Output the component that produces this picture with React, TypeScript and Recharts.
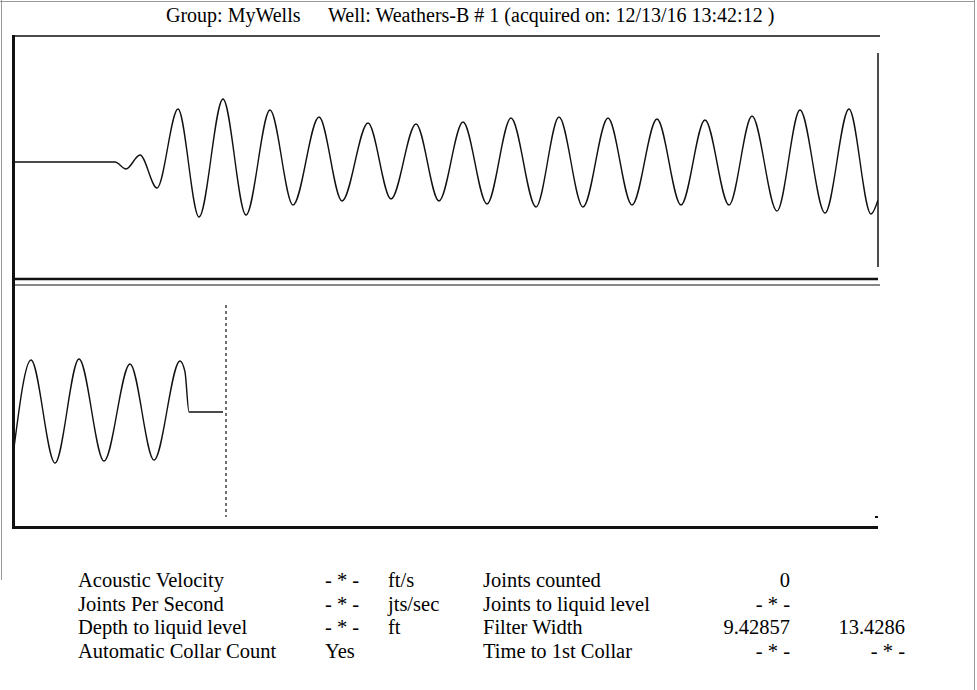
import { LineChart, Line, XAxis, YAxis, ReferenceLine } from 'recharts';

// upper trace: sample position vs amplitude
const upperTime = [0, 101, 112, 126, 143, 164, 185, 209, 232, 256, 279, 305, 328, 354, 377, 402, 425, 449, 473, 497, 522, 545, 569, 594, 618, 643, 667, 691, 715, 738, 763, 786, 811, 835, 857, 864];
const upperAmp = [0, 0, -7, 7, -26, 53, -55, 63, -53, 52, -43, 45, -39, 39, -37, 38, -39, 40, -42, 44, -45, 45, -45, 44, -43, 43, -43, 42, -43, 46, -49, 52, -51, 53, -52, -38];

// lower trace (filtered window)
const lowerTime = [0, 17, 41, 65, 90, 116, 140, 166, 171, 175, 209];
const lowerAmp = [-36, 52, -51, 53, -49, 48, -48, 51, 40, 0, 0];

const markerTime = 212;

const labelsLeft = ['Acoustic Velocity', 'Joints Per Second', 'Depth to liquid level', 'Automatic Collar Count'];
const valuesLeft = ['- * -', '- * -', '- * -', 'Yes'];
const unitsLeft = ['ft/s', 'jts/sec', 'ft', ''];
const labelsRight = ['Joints counted', 'Joints to liquid level', 'Filter Width', 'Time to 1st Collar'];
const valuesRight = ['0', '- * -', '9.42857', '- * -'];
const valuesRight2 = ['', '', '13.4286', '- * -'];

const upperData = upperTime.map((t, i) => ({ x: t, y: upperAmp[i] }));
const lowerData = lowerTime.map((t, i) => ({ x: t, y: lowerAmp[i] }));

const FONT = "'Liberation Serif', 'Times New Roman', serif";
const INK = '#111';

export default function App() {
  const rowY = [587, 610.5, 634, 657.5];
  return (
    <div style={{ position: 'absolute', left: 0, top: 0, width: 977, height: 690, background: '#fff', overflow: 'hidden' }}>
      {/* scanned page edge */}
      <div style={{ position: 'absolute', left: 0, top: 1, width: 975, height: 1, background: '#999' }} />
      <div style={{ position: 'absolute', left: 1, top: 0, width: 1, height: 580, background: '#999' }} />
      <div style={{ position: 'absolute', left: 974, top: 0, width: 1, height: 690, background: '#999' }} />

      <div style={{ position: 'absolute', left: 10, top: 32 }}>
        <LineChart width={872} height={258} data={upperData} margin={{ top: 4, right: 4, bottom: 10, left: 4 }}>
          <XAxis type="number" dataKey="x" domain={[0, 864]} hide allowDataOverflow />
          <YAxis type="number" domain={[-118, 126]} hide allowDataOverflow />
          <ReferenceLine ifOverflow="visible" segment={[{ x: -2, y: 126 }, { x: 866, y: 126 }]} stroke={INK} strokeWidth={1.5} />
          <ReferenceLine ifOverflow="visible" segment={[{ x: -2, y: -117 }, { x: 864, y: -117 }]} stroke={INK} strokeWidth={2.5} />
          <ReferenceLine ifOverflow="visible" segment={[{ x: -0.5, y: 127 }, { x: -0.5, y: -124 }]} stroke={INK} strokeWidth={3} />
          <ReferenceLine ifOverflow="visible" segment={[{ x: 864, y: 109 }, { x: 864, y: -105 }]} stroke={INK} strokeWidth={1.5} />
          <Line type="monotone" dataKey="y" stroke={INK} strokeWidth={1.4} dot={false} isAnimationActive={false} />
        </LineChart>
      </div>

      <div style={{ position: 'absolute', left: 10, top: 281 }}>
        <LineChart width={872} height={253} data={lowerData} margin={{ top: 4, right: 4, bottom: 6, left: 4 }}>
          <XAxis type="number" dataKey="x" domain={[0, 864]} hide allowDataOverflow />
          <YAxis type="number" domain={[-116, 127]} hide allowDataOverflow />
          <ReferenceLine ifOverflow="visible" segment={[{ x: -2, y: 127 }, { x: 866, y: 127 }]} stroke={INK} strokeWidth={1.2} />
          <ReferenceLine ifOverflow="visible" segment={[{ x: -2, y: -115.5 }, { x: 864, y: -115.5 }]} stroke={INK} strokeWidth={3} />
          <ReferenceLine ifOverflow="visible" segment={[{ x: -0.5, y: 127 }, { x: -0.5, y: -117 }]} stroke={INK} strokeWidth={3} />
          <ReferenceLine ifOverflow="visible" segment={[{ x: markerTime, y: 107 }, { x: markerTime, y: -105 }]} stroke={INK} strokeWidth={1.2} strokeDasharray="3 3" />
          <ReferenceLine ifOverflow="visible" segment={[{ x: 861, y: -105 }, { x: 864, y: -105 }]} stroke={INK} strokeWidth={2} />
          <Line type="monotone" dataKey="y" stroke={INK} strokeWidth={1.4} dot={false} isAnimationActive={false} />
        </LineChart>
      </div>

      <svg width={977} height={690} style={{ position: 'absolute', left: 0, top: 0, pointerEvents: 'none' }}>
        <g fontFamily={FONT} fill="#000">
          <text x={166} y={22} fontSize={20}>Group: MyWells</text>
          <text x={328} y={22} fontSize={20}>Well: Weathers-B # 1 (acquired on: 12/13/16 13:42:12 )</text>
          <g fontSize={20.5}>
            {labelsLeft.map((s, i) => (
              <g key={s}>
                <text x={78} y={rowY[i]}>{s}</text>
                <text x={325} y={rowY[i]}>{valuesLeft[i]}</text>
                <text x={388} y={rowY[i]}>{unitsLeft[i]}</text>
                <text x={483} y={rowY[i]}>{labelsRight[i]}</text>
                <text x={790} y={rowY[i]} textAnchor="end">{valuesRight[i]}</text>
                <text x={905} y={rowY[i]} textAnchor="end">{valuesRight2[i]}</text>
              </g>
            ))}
          </g>
        </g>
      </svg>
    </div>
  );
}
